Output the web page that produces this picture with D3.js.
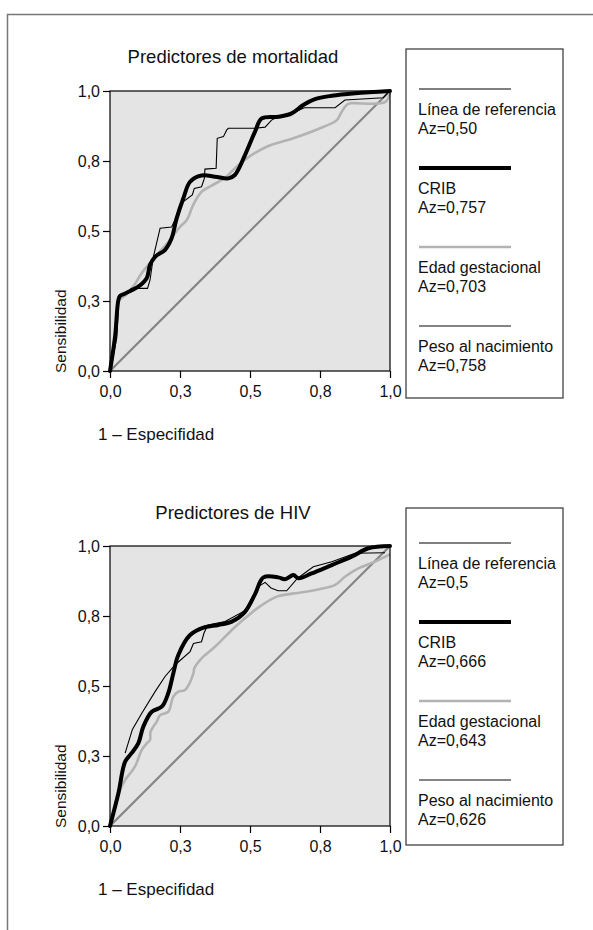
<!DOCTYPE html>
<html>
<head>
<meta charset="utf-8">
<script src="https://cdn.jsdelivr.net/npm/d3@7/dist/d3.min.js"></script>
<style>
  html, body { margin: 0; padding: 0; background: #fff; }
  svg { display: block; font-family: "Liberation Sans", Arial, Helvetica, sans-serif; }
</style>
</head>
<body>
<svg id="chart" width="593" height="930"></svg>
<script>
// ---------- DATA ----------
const tickValues = [0, 0.25, 0.5, 0.75, 1];
const tickLabels = ["0,0", "0,3", "0,5", "0,8", "1,0"];
const panelTitles = ["Predictores de mortalidad", "Predictores de HIV"];
const xAxisLabel = "1 \u2013 Especifidad";
const yAxisLabel = "Sensibilidad";
const legendNames = ["L\u00ednea de referencia", "CRIB", "Edad gestacional", "Peso al nacimiento"];
const mortAz = ["Az=0,50", "Az=0,757", "Az=0,703", "Az=0,758"];
const hivAz  = ["Az=0,5", "Az=0,666", "Az=0,643", "Az=0,626"];

const diagonal = [[0, 0], [1, 1]];

const mortThin = [[0,0],[0.024,0.117],[0.032,0.265],[0.054,0.277],[0.077,0.295],[0.134,0.295],[0.143,0.325],[0.155,0.408],[0.179,0.510],[0.220,0.514],[0.232,0.539],[0.25,0.593],[0.262,0.605],[0.294,0.629],[0.301,0.652],[0.327,0.658],[0.337,0.688],[0.339,0.721],[0.379,0.724],[0.383,0.831],[0.405,0.837],[0.417,0.861],[0.423,0.867],[0.518,0.867],[0.554,0.871],[0.577,0.896],[0.601,0.908],[0.649,0.920],[0.694,0.940],[0.804,0.940],[0.839,0.968],[0.976,0.976],[0.996,0.998]];
const mortCrib = [[0,0],[0.018,0.122],[0.030,0.254],[0.036,0.268],[0.054,0.277],[0.101,0.301],[0.131,0.331],[0.143,0.379],[0.161,0.408],[0.196,0.432],[0.220,0.474],[0.238,0.545],[0.262,0.617],[0.286,0.676],[0.327,0.698],[0.375,0.694],[0.423,0.688],[0.446,0.700],[0.482,0.771],[0.518,0.855],[0.542,0.902],[0.601,0.908],[0.649,0.920],[0.690,0.950],[0.732,0.971],[0.792,0.983],[0.875,0.992],[1.0,1.0]];
const mortEdad = [[0,0],[0.02,0.12],[0.032,0.25],[0.06,0.275],[0.089,0.31],[0.11,0.345],[0.167,0.414],[0.214,0.468],[0.25,0.515],[0.274,0.539],[0.298,0.595],[0.327,0.640],[0.363,0.662],[0.411,0.690],[0.440,0.718],[0.488,0.759],[0.560,0.801],[0.655,0.831],[0.75,0.867],[0.810,0.896],[0.827,0.925],[0.845,0.950],[0.860,0.956],[0.982,0.960],[1.0,0.995]];

const hivThin = [[0.054,0.260],[0.080,0.345],[0.113,0.402],[0.161,0.480],[0.196,0.533],[0.232,0.575],[0.286,0.623],[0.298,0.652],[0.327,0.658],[0.336,0.690],[0.350,0.718],[0.411,0.730],[0.482,0.769],[0.530,0.855],[0.554,0.870],[0.575,0.850],[0.600,0.840],[0.631,0.840],[0.670,0.885],[0.726,0.926],[0.792,0.944],[0.875,0.974],[0.982,0.976]];
const hivCrib = [[0,0],[0.030,0.117],[0.054,0.230],[0.077,0.260],[0.101,0.295],[0.119,0.355],[0.149,0.408],[0.185,0.426],[0.208,0.474],[0.226,0.545],[0.244,0.611],[0.286,0.682],[0.339,0.710],[0.387,0.718],[0.435,0.730],[0.482,0.765],[0.518,0.828],[0.548,0.888],[0.601,0.888],[0.625,0.881],[0.655,0.896],[0.673,0.885],[0.720,0.902],[0.792,0.932],[0.863,0.962],[0.923,0.992],[1.0,1.0]];
const hivEdad = [[0,0],[0.036,0.129],[0.054,0.164],[0.089,0.212],[0.113,0.271],[0.131,0.295],[0.143,0.307],[0.145,0.337],[0.167,0.373],[0.179,0.396],[0.208,0.408],[0.226,0.462],[0.244,0.480],[0.268,0.486],[0.298,0.545],[0.301,0.563],[0.327,0.599],[0.375,0.640],[0.435,0.700],[0.482,0.742],[0.542,0.789],[0.601,0.821],[0.661,0.831],[0.744,0.845],[0.804,0.861],[0.839,0.890],[0.887,0.920],[0.946,0.944],[1.0,0.970]];

const panels = [
  { title: panelTitles[0], az: mortAz, thin: mortThin, crib: mortCrib, edad: mortEdad,
    top: 91, titleY: 63, legTop: 49, legBottom: 398, firstLine: 89 },
  { title: panelTitles[1], az: hivAz, thin: hivThin, crib: hivCrib, edad: hivEdad,
    top: 546, titleY: 519, legTop: 508, legBottom: 845, firstLine: 543 }
];

// ---------- STYLES ----------
const styles = {
  thin: { color: "#000", width: 1.1 },
  crib: { color: "#000", width: 4 },
  edad: { color: "#b3b3b3", width: 2.6 },
  diag: { color: "#858585", width: 2.2 }
};
const legendStyles = [styles.thin, styles.crib, styles.edad, styles.diag];

const svg = d3.select("#chart");

// page frame
svg.append("path")
  .attr("d", "M7.5,930 L7.5,14.5 L593,14.5")
  .attr("fill", "none").attr("stroke", "#777").attr("stroke-width", 1.5);

const plotLeft = 110, plotSize = 280;

panels.forEach(p => {
  const x = d3.scaleLinear().domain([0, 1]).range([plotLeft, plotLeft + plotSize]);
  const y = d3.scaleLinear().domain([0, 1]).range([p.top + plotSize, p.top]);
  const g = svg.append("g");

  g.append("rect")
    .attr("x", x(0)).attr("y", y(1))
    .attr("width", x(1) - x(0)).attr("height", y(0) - y(1))
    .attr("fill", "#e4e4e4");

  const fmt = d => tickLabels[tickValues.indexOf(d)];
  const xAxis = g.append("g").attr("transform", `translate(0,${y(0)})`)
    .call(d3.axisBottom(x).tickValues(tickValues).tickFormat(fmt).tickSize(7).tickSizeOuter(0).tickPadding(8));
  const yAxis = g.append("g").attr("transform", `translate(${x(0)},0)`)
    .call(d3.axisLeft(y).tickValues(tickValues).tickFormat(fmt).tickSize(7).tickSizeOuter(0).tickPadding(3));
  [xAxis, yAxis].forEach(a => {
    a.selectAll("text").attr("font-size", 16).attr("fill", "#111").attr("font-family", "Liberation Sans, Arial, sans-serif");
    a.selectAll("line").attr("stroke", "#000").attr("stroke-width", 1.2);
    a.select(".domain").remove();
  });

  const lineLin = d3.line().x(d => x(d[0])).y(d => y(d[1]));
  const lineSmooth = d3.line().x(d => x(d[0])).y(d => y(d[1])).curve(d3.curveCatmullRom.alpha(0.5));

  const plotG = g.append("g");
  plotG.append("path").datum(diagonal).attr("d", lineLin)
    .attr("fill", "none").attr("stroke", styles.diag.color).attr("stroke-width", styles.diag.width);
  plotG.append("path").datum(p.edad).attr("d", lineSmooth)
    .attr("fill", "none").attr("stroke", styles.edad.color).attr("stroke-width", styles.edad.width)
    .attr("stroke-linejoin", "round");
  plotG.append("path").datum(p.thin).attr("d", lineLin)
    .attr("fill", "none").attr("stroke", styles.thin.color).attr("stroke-width", styles.thin.width);
  plotG.append("path").datum(p.crib).attr("d", lineSmooth)
    .attr("fill", "none").attr("stroke", styles.crib.color).attr("stroke-width", styles.crib.width)
    .attr("stroke-linejoin", "round").attr("stroke-linecap", "round");

  // plot frame
  g.append("rect")
    .attr("x", x(0)).attr("y", y(1))
    .attr("width", x(1) - x(0)).attr("height", y(0) - y(1))
    .attr("fill", "none").attr("stroke", "#000").attr("stroke-width", 1.2);

  // title
  g.append("text").attr("x", 233).attr("y", p.titleY)
    .attr("text-anchor", "middle").attr("font-size", 18.5).attr("fill", "#111").text(p.title);

  // axis labels
  g.append("text").attr("x", 98).attr("y", y(0) + 69)
    .attr("font-size", 17).attr("fill", "#111").text(xAxisLabel);
  g.append("text")
    .attr("transform", `translate(66,${y(0) + 2}) rotate(-90)`)
    .attr("font-size", 15.5).attr("fill", "#111").text(yAxisLabel);

  // legend
  g.append("rect").attr("x", 406).attr("y", p.legTop)
    .attr("width", 157).attr("height", p.legBottom - p.legTop)
    .attr("fill", "#fff").attr("stroke", "#333").attr("stroke-width", 1.2);
  legendNames.forEach((name, i) => {
    const ly = p.firstLine + i * 79;
    const st = legendStyles[i];
    g.append("line").attr("x1", 419).attr("x2", 511).attr("y1", ly).attr("y2", ly)
      .attr("stroke", st.color).attr("stroke-width", st.width);
    g.append("text").attr("x", 418).attr("y", ly + 26).attr("font-size", 16).attr("fill", "#111").text(name);
    g.append("text").attr("x", 418).attr("y", ly + 45).attr("font-size", 16).attr("fill", "#111").text(p.az[i]);
  });
});
</script>
</body>
</html>
